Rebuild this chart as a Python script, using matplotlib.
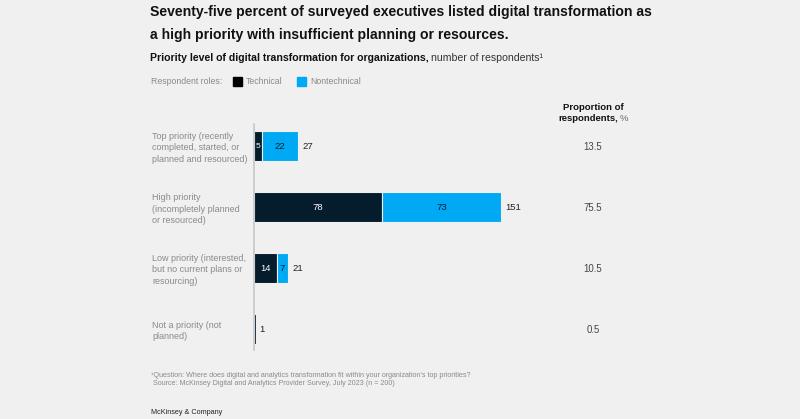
import matplotlib
matplotlib.use("Agg")
import matplotlib.pyplot as plt
import numpy as np

plt.rcParams['font.family'] = ['Liberation Sans', 'DejaVu Sans']

categories = ["Top priority (recently\ncompleted, started, or\nplanned and resourced)",
              "High priority\n(incompletely planned\nor resourced)",
              "Low priority (interested,\nbut no current plans or\nresourcing)",
              "Not a priority (not\nplanned)"]
technical = [5, 78, 14, 1]
nontechnical = [22, 73, 7, 0]
proportion = [13.5, 75.5, 10.5, 0.5]

dark = "#051c2c"
blue = "#00a9f4"
bg = "#f0f0f0"
grey_txt = "#8a8a8a"

W, H = 800, 419
fig = plt.figure(figsize=(8, 4.19), dpi=100, facecolor=bg)

# axes placed in pixel coordinates of the reference
ax_left, ax_right, ax_top, ax_bot = 254, 700, 115, 355
ax = fig.add_axes([ax_left / W, 1 - ax_bot / H, (ax_right - ax_left) / W, (ax_bot - ax_top) / H])
ax.set_facecolor(bg)
px_per_unit = 247 / 151
ax.set_xlim(0, (ax_right - ax_left) / px_per_unit)
# rows centred at 146, 207, 268, 329 px (spacing ~61)
ax.set_ylim((ax_bot - 146) / 61, (ax_top - 146) / 61)

y = np.arange(len(categories))
tech = np.array(technical)
nontech = np.array(nontechnical)
ax.barh(y, tech, height=0.49, color=dark, edgecolor=bg, linewidth=0.8)
ax.barh(y, nontech, left=tech, height=0.49, color=blue, edgecolor=bg, linewidth=0.8)

for i in range(len(categories)):
    if tech[i] >= 3 and nontech[i] > 0:
        ax.text(tech[i] / 2, i, str(tech[i]), ha="center", va="center", color="white",
                fontsize=6 if tech[i] < 10 else 6.8)
    if nontech[i] >= 3:
        ax.text(tech[i] + nontech[i] / 2, i, str(nontech[i]), ha="center", va="center",
                color=dark, fontsize=6.8)
    total = tech[i] + nontech[i]
    ax.text(total + 2.5, i, str(total), ha="left", va="center", color="#222222", fontsize=6.8)

for s in ["top", "right", "bottom"]:
    ax.spines[s].set_visible(False)
ax.spines["left"].set_color("#c8c8c8")
ax.spines["left"].set_linewidth(1.2)
ax.spines["left"].set_bounds((350 - 146) / 61, (124 - 146) / 61)
ax.set_xticks([])
ax.set_yticks([])

# category labels
for i, cat in enumerate(categories):
    yy = 146 + 61 * i
    fig.text(152 / W, 1 - (yy + 2) / H, cat, ha="left", va="center", fontsize=6.5,
             color=grey_txt, linespacing=1.3)
    fig.text(593 / W, 1 - (yy + 1) / H, f"{proportion[i]}", ha="center", va="center",
             fontsize=6.9, color="#444444")

# title and subtitle
fig.text(150 / W, 1 - 12 / H, "Seventy-five percent of surveyed executives listed digital transformation as",
         ha="left", va="center", fontsize=10.1, fontweight="bold", color="#111111")
fig.text(150 / W, 1 - 35 / H, "a high priority with insufficient planning or resources.",
         ha="left", va="center", fontsize=10.1, fontweight="bold", color="#111111")
t = fig.text(150 / W, 1 - 58 / H, "Priority level of digital transformation for organizations,",
             ha="left", va="center", fontsize=7.6, fontweight="bold", color="#111111")
fig.canvas.draw()
bb = t.get_window_extent()
fig.text((bb.x1 + 2.5) / W, 1 - 58 / H, "number of respondents\u00b9", ha="left", va="center",
         fontsize=7.6, color="#333333")

# legend
fig.text(151 / W, 1 - 81 / H, "Respondent roles:", ha="left", va="center", fontsize=6.3, color=grey_txt)
fig.patches.append(plt.Rectangle((233 / W, 1 - 86 / H), 9 / W, 9 / H, transform=fig.transFigure,
                                 color="#000000", figure=fig))
fig.text(246 / W, 1 - 81 / H, "Technical", ha="left", va="center", fontsize=6.3, color=grey_txt)
fig.patches.append(plt.Rectangle((297 / W, 1 - 86 / H), 9 / W, 9 / H, transform=fig.transFigure,
                                 color=blue, figure=fig))
fig.text(310 / W, 1 - 81 / H, "Nontechnical", ha="left", va="center", fontsize=6.3, color=grey_txt)

# proportion header
fig.text(593 / W, 1 - 107 / H, "Proportion of", ha="center", va="center", fontsize=6.8,
         fontweight="bold", color="#111111")
h = fig.text(588 / W, 1 - 118 / H, "respondents,", ha="center", va="center", fontsize=6.8,
             fontweight="bold", color="#111111")
fig.canvas.draw()
hb = h.get_window_extent()
fig.text((hb.x1 + 2) / W, 1 - 118 / H, "%", ha="left", va="center", fontsize=6.8, color="#666666")

# footnotes
fig.text(151 / W, 1 - 375 / H, "\u00b9Question: Where does digital and analytics transformation fit within your organization\u2019s top priorities?",
         ha="left", va="center", fontsize=5.1, color=grey_txt)
fig.text(151 / W, 1 - 383 / H, " Source: McKinsey Digital and Analytics Provider Survey, July 2023 (n = 200)",
         ha="left", va="center", fontsize=5.1, color=grey_txt)
fig.text(151 / W, 1 - 412 / H, "McKinsey & Company", ha="left", va="center", fontsize=5.2, color="#222222")

fig.savefig("out.png", dpi=100, facecolor=bg)
